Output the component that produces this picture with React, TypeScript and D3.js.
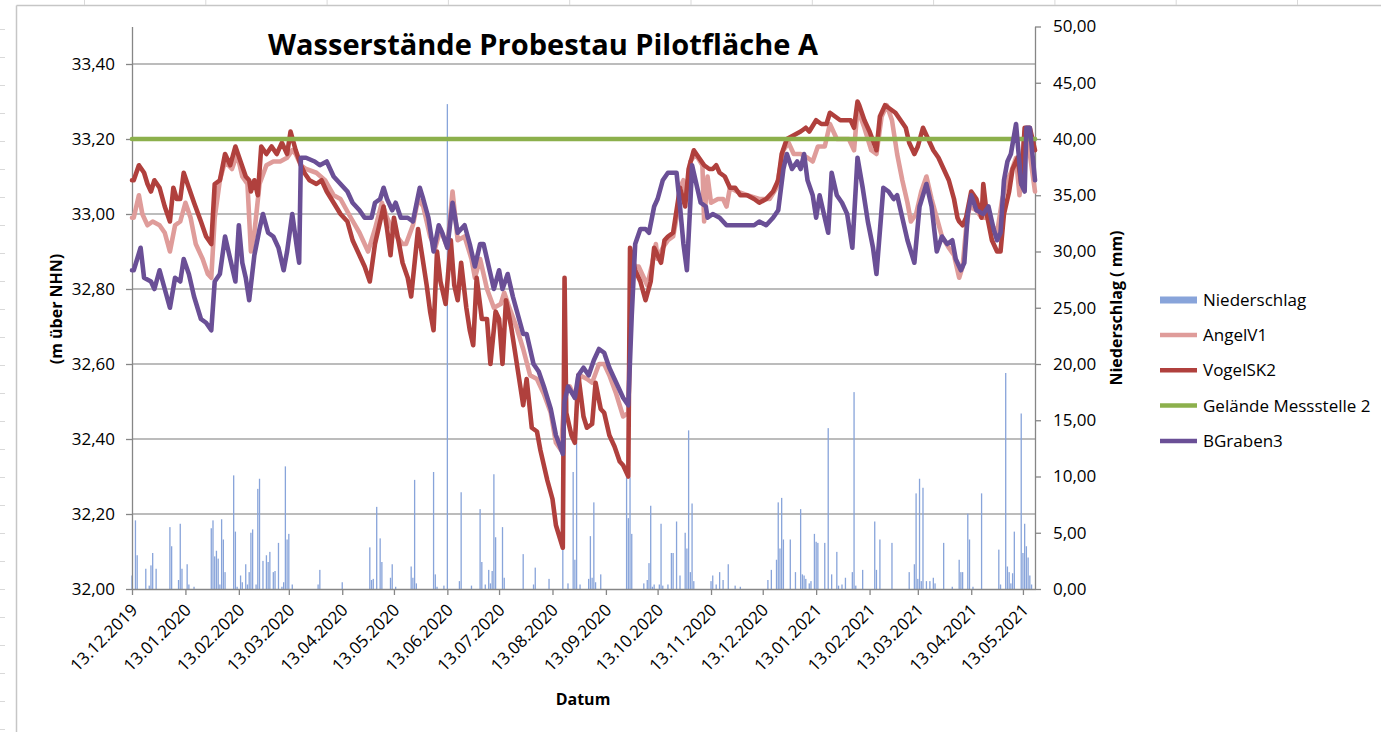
import React, { useEffect, useRef } from 'react'
import * as d3 from 'd3'

// Tage seit Messbeginn (13.12.2019), Werte in m ü. NHN bzw. mm
const startDatum = '13.12.2019'
const endDatum = '20.05.2021'
const datumTicks = ['13.12.2019', '13.01.2020', '13.02.2020', '13.03.2020', '13.04.2020', '13.05.2020', '13.06.2020', '13.07.2020', '13.08.2020', '13.09.2020', '13.10.2020', '13.11.2020', '13.12.2020', '13.01.2021', '13.02.2021', '13.03.2021', '13.04.2021', '13.05.2021']
const pegelTicks = [32, 32.2, 32.4, 32.6, 32.8, 33, 33.2, 33.4]
const regenTicks = [0, 5, 10, 15, 20, 25, 30, 35, 40, 45, 50]
const gelaendeHoehe = 33.2

const niederschlag: [number, number][] = [
  [0, 1.2], [2, 6.1], [3, 3.0], [8, 1.8], [10, 0.3], [11, 2.1], [12, 3.2], [14, 1.8], [22, 5.5], [23, 3.8], [27, 0.8], [28, 5.8], [29, 1.8], [32, 2.2], [33, 0.4], [36, 0.2],
  [46, 5.4], [47, 6.1], [48, 2.9], [49, 3.4], [50, 2.7], [51, 0.4], [52, 6.2], [53, 4.4], [54, 1.5], [59, 10.1], [60, 5.1], [61, 0.2], [63, 1.2], [64, 0.6], [66, 2.2], [67, 0.4], [68, 1.5], [69, 5.0], [70, 5.3],
  [72, 0.4], [73, 8.9], [74, 9.8], [76, 2.5], [78, 3.0], [79, 2.4], [80, 3.3], [82, 1.5], [83, 1.6], [85, 4.1], [87, 0.2], [88, 0.6], [89, 10.9], [90, 4.4], [91, 4.9], [93, 0.4],
  [108, 0.4], [109, 1.7], [122, 0.6], [138, 3.7], [139, 0.8], [140, 0.9], [142, 7.3], [144, 4.5], [145, 2.4], [150, 1.0], [151, 2.2], [153, 0.2], [162, 2.0], [163, 1.0], [164, 9.7], [165, 0.5],
  [175, 10.4], [176, 1.3], [177, 0.2], [181, 0.3], [183, 43.1], [190, 0.7], [191, 8.6], [197, 0.3], [202, 7.1], [203, 2.4], [205, 0.4], [207, 1.7], [208, 0.5], [209, 1.6], [210, 10.2], [211, 4.6],
  [215, 5.5], [216, 1.0], [227, 3.1], [233, 0.4], [234, 1.9], [242, 0.9], [250, 4.0], [253, 0.5], [256, 10.4], [257, 2.6], [258, 13.0], [260, 0.4], [265, 0.9], [266, 4.7], [267, 1.0], [268, 7.7], [269, 0.6], [272, 1.3],
  [287, 9.9], [288, 6.3], [289, 9.9], [290, 4.9], [297, 0.5], [299, 0.8], [300, 2.3], [301, 7.4], [302, 0.2], [303, 0.4], [306, 0.4], [307, 5.8], [308, 0.3], [311, 0.4], [313, 3.2], [314, 3.2], [316, 6.0], [318, 1.2],
  [321, 5.0], [322, 3.6], [323, 14.1], [324, 1.5], [325, 7.6], [326, 0.7], [336, 0.7], [337, 1.2], [339, 0.4], [341, 1.5], [343, 0.8], [346, 2.2], [350, 0.3], [353, 0.2],
  [369, 0.8], [371, 1.7], [374, 2.6], [375, 7.7], [376, 3.6], [377, 8.1], [378, 4.4], [382, 4.4], [385, 1.5], [388, 7.1], [389, 1.3], [390, 1.2], [391, 0.9], [393, 0.5], [394, 0.7], [396, 4.9], [397, 4.2], [398, 4.1],
  [402, 4.1], [404, 14.3], [406, 1.3], [409, 3.3], [410, 0.3], [412, 0.4], [414, 1.0], [418, 1.5], [419, 17.5], [420, 0.3], [424, 1.7], [431, 6.0], [432, 1.7], [434, 4.4], [441, 4.1],
  [451, 1.5], [454, 2.2], [455, 8.5], [456, 0.9], [457, 9.8], [458, 0.7], [459, 9.0], [461, 0.7], [463, 0.7], [465, 1.0], [466, 0.5], [471, 4.1], [476, 0.2], [480, 2.6], [481, 1.5], [482, 1.5], [485, 6.7], [486, 4.4], [488, 0.2],
  [493, 8.5], [503, 3.5], [504, 0.4], [507, 19.2], [508, 2.0], [509, 1.5], [510, 0.5], [511, 1.4], [512, 5.1], [516, 15.6], [517, 3.2], [518, 5.8], [519, 3.8], [520, 2.8], [521, 1.2], [522, 0.4],
]

const angelV1: [number, number][] = [
  [0, 32.99], [1, 32.99], [4, 33.05], [6, 33.0], [9, 32.97], [12, 32.98], [16, 32.97], [19, 32.95], [22, 32.9], [25, 32.97], [28, 32.98], [31, 33.03], [34, 32.99], [37, 32.92], [41, 32.88], [44, 32.84], [46, 32.83],
  [48, 32.99], [51, 33.09], [54, 33.14], [58, 33.12], [61, 33.16], [64, 33.1], [67, 33.08], [69, 32.9], [71, 32.95], [74, 33.08], [78, 33.13], [82, 33.14], [86, 33.14], [90, 33.15], [93, 33.17], [95, 33.16], [98, 33.13],
  [101, 33.12], [107, 33.11], [112, 33.09], [117, 33.05], [121, 33.04], [127, 32.99], [132, 32.95], [137, 32.9], [141, 32.96], [145, 33.03], [148, 32.99], [152, 32.95], [157, 32.92], [159, 32.92], [163, 32.97], [166, 33.04],
  [169, 33.02], [173, 32.94], [176, 32.91], [179, 32.96], [183, 32.91], [186, 33.06], [189, 32.93], [193, 32.94], [197, 32.88], [199, 32.83], [202, 32.88], [206, 32.8], [210, 32.75], [214, 32.76], [216, 32.79], [219, 32.75],
  [223, 32.7], [227, 32.64], [231, 32.57], [235, 32.56], [239, 32.52], [243, 32.47], [246, 32.39], [249, 32.37], [251, 32.52], [254, 32.54], [257, 32.51], [260, 32.57], [264, 32.56], [267, 32.55], [271, 32.6], [274, 32.6],
  [277, 32.57], [281, 32.52], [285, 32.46], [288, 32.47], [290, 32.88], [292, 32.86], [294, 32.86], [296, 32.84], [299, 32.81], [302, 32.87], [304, 32.92], [305, 32.88], [308, 32.91], [311, 32.93], [314, 32.94], [316, 32.99],
  [318, 33.07], [320, 33.09], [322, 33.04], [324, 33.14], [327, 33.16], [331, 33.13], [332, 32.98], [334, 33.1], [336, 33.03], [340, 33.04], [343, 33.04], [345, 33.02], [347, 33.07], [351, 33.06], [357, 33.05], [364, 33.04],
  [370, 33.04], [374, 33.07], [378, 33.17], [381, 33.19], [384, 33.16], [388, 33.16], [392, 33.15], [395, 33.14], [398, 33.18], [402, 33.18], [405, 33.24], [409, 33.2], [413, 33.2], [416, 33.2], [419, 33.17], [421, 33.28],
  [425, 33.23], [429, 33.17], [432, 33.16], [435, 33.26], [438, 33.29], [441, 33.25], [444, 33.16], [447, 33.09], [450, 33.03], [452, 32.98], [455, 33.0], [458, 33.06], [461, 33.1], [464, 33.04], [467, 32.99], [470, 32.94],
  [474, 32.91], [477, 32.89], [480, 32.83], [482, 32.86], [484, 32.96], [486, 33.02], [490, 33.01], [493, 32.99], [496, 32.99], [499, 32.97], [502, 32.95], [505, 33.04], [508, 33.09], [510, 33.11], [513, 33.15], [515, 33.05],
  [518, 33.22], [521, 33.16], [524, 33.06],
]

const vogelSK2: [number, number][] = [
  [0, 33.09], [1, 33.09], [4, 33.13], [7, 33.11], [9, 33.08], [11, 33.06], [13, 33.09], [16, 33.07], [19, 33.02], [22, 32.98], [24, 33.07], [26, 33.04], [28, 33.04], [30, 33.11], [33, 33.07], [36, 33.03], [40, 32.98],
  [43, 32.94], [46, 32.92], [48, 33.08], [51, 33.09], [54, 33.16], [57, 33.13], [60, 33.18], [63, 33.14], [66, 33.1], [68, 33.09], [69, 33.06], [71, 33.09], [73, 33.05], [75, 33.18], [78, 33.16], [81, 33.18], [84, 33.16],
  [87, 33.19], [90, 33.16], [92, 33.22], [95, 33.17], [98, 33.13], [100, 33.11], [103, 33.09], [107, 33.08], [110, 33.09], [113, 33.06], [117, 33.03], [121, 33.0], [125, 32.98], [128, 32.93], [132, 32.89], [135, 32.86],
  [138, 32.82], [141, 32.92], [143, 32.96], [146, 33.02], [148, 32.96], [150, 32.89], [152, 32.99], [155, 32.92], [157, 32.87], [160, 32.83], [162, 32.78], [166, 32.96], [168, 32.9], [171, 32.81], [173, 32.74], [175, 32.69],
  [177, 32.9], [179, 32.82], [182, 32.76], [185, 32.93], [187, 32.81], [189, 32.77], [191, 32.87], [194, 32.75], [196, 32.69], [198, 32.65], [200, 32.83], [203, 32.72], [206, 32.72], [208, 32.6], [211, 32.74], [213, 32.72],
  [215, 32.6], [217, 32.77], [220, 32.7], [222, 32.64], [224, 32.58], [227, 32.49], [229, 32.56], [232, 32.43], [235, 32.42], [237, 32.37], [241, 32.29], [244, 32.24], [246, 32.17], [250, 32.11], [251, 32.83], [252, 32.47],
  [255, 32.41], [257, 32.39], [259, 32.57], [262, 32.46], [264, 32.43], [267, 32.44], [269, 32.55], [272, 32.48], [274, 32.47], [277, 32.41], [280, 32.38], [283, 32.34], [285, 32.33], [288, 32.3], [289, 32.91], [292, 32.85],
  [295, 32.82], [298, 32.77], [301, 32.82], [303, 32.91], [305, 32.89], [307, 32.87], [309, 32.93], [311, 32.94], [314, 32.95], [317, 33.04], [318, 33.07], [321, 33.02], [323, 33.12], [326, 33.17], [329, 33.15], [332, 33.13],
  [335, 33.12], [337, 33.12], [339, 33.13], [341, 33.11], [344, 33.1], [347, 33.07], [350, 33.07], [353, 33.05], [357, 33.05], [361, 33.04], [364, 33.03], [368, 33.04], [372, 33.06], [375, 33.09], [377, 33.16], [380, 33.2],
  [384, 33.21], [388, 33.22], [391, 33.23], [393, 33.22], [397, 33.25], [400, 33.24], [403, 33.24], [405, 33.27], [408, 33.26], [411, 33.25], [414, 33.25], [417, 33.25], [419, 33.23], [421, 33.3], [422, 33.29], [425, 33.25],
  [428, 33.22], [432, 33.17], [434, 33.26], [437, 33.29], [440, 33.28], [443, 33.27], [446, 33.25], [449, 33.23], [451, 33.19], [454, 33.16], [456, 33.18], [459, 33.23], [462, 33.2], [465, 33.17], [468, 33.15], [471, 33.12],
  [474, 33.09], [477, 33.04], [479, 32.99], [480, 32.98], [482, 32.97], [484, 32.99], [487, 33.06], [490, 33.04], [493, 32.99], [494, 33.08], [496, 33.0], [499, 32.93], [502, 32.9], [504, 32.9], [506, 33.0], [509, 33.06],
  [511, 33.12], [514, 33.15], [516, 33.08], [518, 33.23], [521, 33.23], [524, 33.17],
]

const bGraben3: [number, number][] = [
  [0, 32.85], [1, 32.85], [5, 32.91], [7, 32.83], [11, 32.82], [13, 32.8], [16, 32.85], [19, 32.8], [22, 32.75], [25, 32.83], [28, 32.82], [30, 32.88], [33, 32.84], [36, 32.78], [40, 32.72], [43, 32.71], [46, 32.69],
  [48, 32.82], [51, 32.84], [54, 32.94], [57, 32.88], [60, 32.82], [62, 32.97], [64, 32.87], [66, 32.83], [68, 32.77], [71, 32.89], [74, 32.96], [76, 33.0], [79, 32.95], [82, 32.94], [85, 32.91], [88, 32.85], [90, 32.9],
  [93, 33.0], [96, 32.9], [97, 32.87], [98, 33.15], [101, 33.15], [106, 33.14], [109, 33.13], [113, 33.14], [117, 33.1], [121, 33.08], [125, 33.06], [128, 33.03], [132, 33.01], [135, 32.99], [139, 32.99], [141, 33.03],
  [144, 33.04], [146, 33.07], [148, 33.04], [151, 33.01], [153, 33.03], [156, 32.99], [158, 32.99], [160, 32.99], [163, 32.98], [167, 33.07], [169, 33.04], [172, 32.99], [175, 32.9], [178, 32.97], [180, 32.95], [183, 32.91],
  [186, 33.03], [189, 32.95], [193, 32.97], [196, 32.92], [199, 32.86], [202, 32.92], [204, 32.92], [207, 32.86], [210, 32.8], [213, 32.85], [215, 32.8], [218, 32.84], [221, 32.78], [224, 32.73], [227, 32.68], [229, 32.68],
  [233, 32.6], [236, 32.58], [239, 32.54], [243, 32.48], [246, 32.41], [250, 32.36], [251, 32.5], [253, 32.54], [257, 32.51], [259, 32.57], [262, 32.59], [265, 32.57], [268, 32.61], [271, 32.64], [274, 32.63], [277, 32.59],
  [281, 32.55], [285, 32.51], [288, 32.49], [290, 32.73], [292, 32.92], [295, 32.96], [298, 32.96], [300, 32.95], [303, 33.02], [305, 33.04], [308, 33.09], [311, 33.11], [314, 33.11], [316, 33.11], [318, 33.02], [320, 32.92],
  [322, 32.85], [324, 33.03], [325, 33.13], [328, 33.07], [330, 33.03], [333, 33.02], [334, 32.99], [337, 33.0], [341, 32.99], [345, 32.97], [353, 32.97], [361, 32.97], [364, 32.98], [368, 32.97], [372, 32.99], [375, 33.01],
  [378, 33.12], [380, 33.16], [383, 33.12], [386, 33.14], [388, 33.12], [390, 33.16], [392, 33.09], [395, 33.05], [397, 32.99], [399, 33.05], [401, 33.01], [404, 32.95], [406, 33.11], [409, 33.05], [412, 33.03], [415, 33.0],
  [418, 32.91], [421, 33.15], [424, 33.07], [427, 32.98], [430, 32.91], [432, 32.84], [436, 33.07], [439, 33.06], [442, 33.04], [444, 33.05], [447, 32.99], [450, 32.93], [452, 32.9], [454, 32.87], [457, 33.02], [461, 33.08],
  [464, 33.02], [467, 32.9], [470, 32.94], [473, 32.92], [476, 32.93], [478, 32.88], [481, 32.85], [483, 32.87], [485, 33.0], [487, 33.05], [490, 33.01], [494, 33.0], [497, 33.02], [500, 32.96], [502, 32.93], [504, 32.95],
  [506, 33.09], [508, 33.14], [510, 33.16], [513, 33.24], [516, 33.08], [518, 33.06], [519, 33.23], [521, 33.23], [524, 33.09],
]

const W = 1381
const H = 732
const FONT = "'Open Sans', sans-serif"

const App = () => {
  const svgRef = useRef<SVGSVGElement>(null)

  useEffect(() => {
    document.body.style.margin = '0'
    document.body.style.overflow = 'hidden'

    const parse = d3.timeParse('%d.%m.%Y')
    const t0 = parse(startDatum) as Date
    const tag = (d: number) => new Date(t0.getTime() + d * 864e5)

    const x = d3.scaleTime().domain([t0, parse(endDatum) as Date]).range([132, 1035])
    const yL = d3.scaleLinear().domain([32, 33.5]).range([589, 26.5])
    const yR = d3.scaleLinear().domain([0, 50]).range([589, 26.5])

    const de = d3.formatLocale({ decimal: ',', thousands: '.', grouping: [3], currency: ['', ' €'] })
    const f2 = de.format('.2f')

    const svg = d3.select(svgRef.current)
    svg.selectAll('*').remove()

    // Tabellenblatt drumherum
    const sheet = svg.append('g').attr('stroke', '#c6c6c6')
    sheet.append('line').attr('x1', 16.5).attr('y1', 5.5).attr('x2', W).attr('y2', 5.5).attr('stroke-width', 1.5)
    sheet.append('line').attr('x1', 16.5).attr('y1', 5.5).attr('x2', 16.5).attr('y2', H).attr('stroke-width', 1.5)
    d3.range(11).forEach(i => {
      const cx = 84.5 + i * 121.3
      sheet.append('line').attr('x1', cx).attr('y1', 0).attr('x2', cx).attr('y2', 5).attr('stroke', '#d9d9d9')
    })
    d3.range(26).forEach(i => {
      const ry = 29.5 + i * 28
      sheet.append('line').attr('x1', 0).attr('y1', ry).attr('x2', 5).attr('y2', ry).attr('stroke', '#d9d9d9')
    })

    // Gitterlinien
    svg.append('g')
      .selectAll('line')
      .data(pegelTicks.filter(v => v > 32))
      .join('line')
        .attr('x1', 132).attr('x2', 1035)
        .attr('y1', d => yL(d)).attr('y2', d => yL(d))
        .attr('stroke', '#a6a6a6')
        .attr('stroke-width', 1.3)

    // Niederschlag
    svg.append('g')
      .selectAll('rect')
      .data(niederschlag)
      .join('rect')
        .attr('x', d => x(tag(d[0])) - 0.65)
        .attr('width', 1.3)
        .attr('y', d => yR(d[1]))
        .attr('height', d => 589 - yR(d[1]))
        .attr('fill', '#88a4da')

    // Achsen
    const styleAxis = (g: any) => {
      g.select('.domain').attr('stroke', '#868686').attr('stroke-width', 1.3)
      g.selectAll('.tick line').attr('stroke', '#868686').attr('stroke-width', 1.3)
      g.selectAll('text').attr('fill', '#000').style('font-family', FONT).style('font-size', '17px')
    }

    svg.append('g')
      .attr('transform', 'translate(132,0)')
      .call(d3.axisLeft(yL).tickValues(pegelTicks).tickFormat(d => f2(d as number)).tickSize(6).tickSizeOuter(0).tickPadding(11))
      .call(styleAxis)

    svg.append('g')
      .attr('transform', 'translate(1035,0)')
      .call(d3.axisRight(yR).tickValues(regenTicks).tickFormat(d => f2(d as number)).tickSize(6).tickSizeOuter(0).tickPadding(12))
      .call(styleAxis)

    const xAxis = svg.append('g')
      .attr('transform', 'translate(0,589)')
      .call(d3.axisBottom(x).tickValues(datumTicks.map(s => parse(s) as Date)).tickFormat(d3.timeFormat('%d.%m.%Y') as any).tickSize(6).tickSizeOuter(0))
      .call(styleAxis)
    xAxis.selectAll('text')
      .attr('text-anchor', 'end')
      .attr('x', 0).attr('y', 0).attr('dy', '0.35em')
      .attr('transform', 'translate(2,18) rotate(-45)')

    // Ganglinien
    const line = d3.line<[number, number]>()
      .x(d => x(tag(d[0])))
      .y(d => yL(d[1]))

    const reihen = [
      { name: 'AngelV1', data: angelV1, farbe: '#df9c9a' },
      { name: 'VogelSK2', data: vogelSK2, farbe: '#b0403d' },
      { name: 'Gelände Messstelle 2', data: [[0, gelaendeHoehe], [524, gelaendeHoehe]] as [number, number][], farbe: '#8cb04c' },
      { name: 'BGraben3', data: bGraben3, farbe: '#6a4f96' },
    ]

    svg.append('g')
      .selectAll('path')
      .data(reihen)
      .join('path')
        .attr('d', d => line(d.data))
        .attr('fill', 'none')
        .attr('stroke', d => d.farbe)
        .attr('stroke-width', 4.6)
        .attr('stroke-linejoin', 'round')
        .attr('stroke-linecap', 'round')

    // Titel
    svg.append('text')
      .attr('x', 543).attr('y', 55)
      .attr('text-anchor', 'middle')
      .style('font-family', FONT).style('font-size', '29px').style('font-weight', 'bold')
      .text('Wasserstände Probestau Pilotfläche A')

    svg.append('text')
      .attr('transform', 'translate(62,309) rotate(-90)')
      .attr('text-anchor', 'middle')
      .style('font-family', FONT).style('font-size', '16px').style('font-weight', 'bold')
      .text('(m über NHN)')

    svg.append('text')
      .attr('transform', 'translate(1122,308) rotate(-90)')
      .attr('text-anchor', 'middle')
      .style('font-family', FONT).style('font-size', '16px').style('font-weight', 'bold')
      .text('Niederschlag ( mm)')

    svg.append('text')
      .attr('x', 583).attr('y', 705)
      .attr('text-anchor', 'middle')
      .style('font-family', FONT).style('font-size', '16px').style('font-weight', 'bold')
      .text('Datum')

    // Legende
    const legende = svg.append('g').attr('transform', 'translate(1160,300)')
    legende.append('rect').attr('x', 0).attr('y', -3.5).attr('width', 37).attr('height', 7).attr('fill', '#88a4da')
    legende.append('text').attr('x', 43).attr('y', 0).attr('dy', '0.35em')
      .style('font-family', FONT).style('font-size', '17px').text('Niederschlag')
    reihen.forEach((r, i) => {
      const ly = 35 + i * 35.3
      legende.append('line').attr('x1', 0).attr('x2', 37).attr('y1', ly).attr('y2', ly)
        .attr('stroke', r.farbe).attr('stroke-width', 4.5)
      legende.append('text').attr('x', 43).attr('y', ly).attr('dy', '0.35em')
        .style('font-family', FONT).style('font-size', '17px').text(r.name)
    })
  }, [])

  return (
    <svg ref={svgRef} width={W} height={H} style={{ position: 'fixed', left: 0, top: 0, background: '#fff' }}></svg>
  )
}

export default App
